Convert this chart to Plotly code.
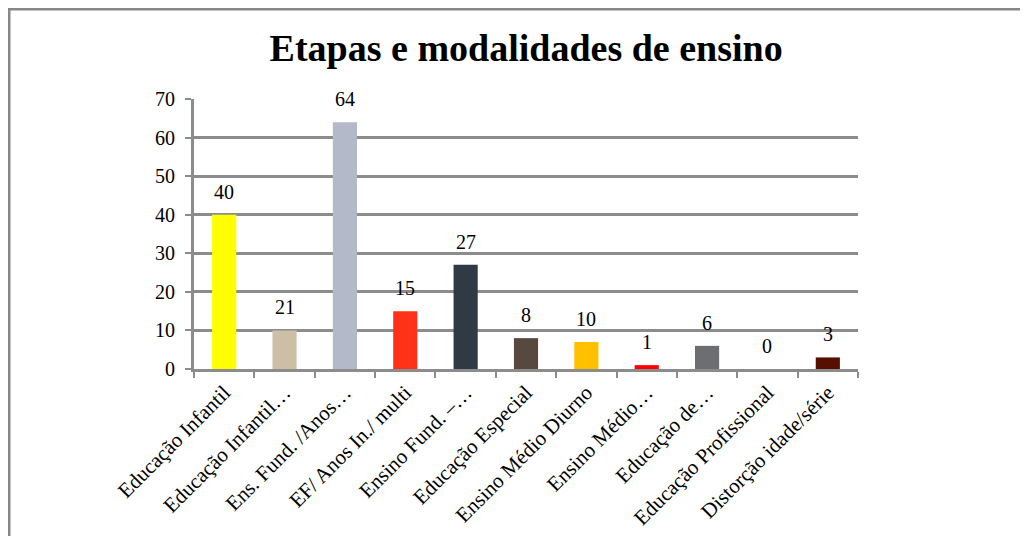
import plotly.graph_objects as go

# dados do grafico
categorias = ["Educação Infantil", "Educação Infantil…", "Ens. Fund. /Anos…",
              "EF/ Anos In./ multi", "Ensino Fund. –…", "Educação Especial",
              "Ensino Médio Diurno", "Ensino Médio…", "Educação de…",
              "Educação Profissional", "Distorção idade/série"]
alturas = [40, 10, 64, 15, 27, 8, 7, 1, 6, 0, 3]        # altura das barras (como desenhadas)
rotulos = ["40", "21", "64", "15", "27", "8", "10", "1", "6", "0", "3"]  # rotulos mostrados
cores = ["#FFFF00", "#CDBFA6", "#B3B9C9", "#FF3118", "#2F3A45", "#574840",
         "#FFC000", "#FF0000", "#6D6E71", "#FFFFFF", "#560F00"]

SERIF = "Liberation Serif, Times New Roman, serif"
# a pagina tem margem de 8px, por isso tudo fica deslocado
W, H = 1020, 528
L, R, T, B = 186, 850, 91, 361  # area do grafico em pixels

fig = go.Figure()
fig.add_trace(go.Bar(x=categorias, y=alturas, marker=dict(color=cores, line=dict(width=0)),
                     hoverinfo="x+y"))

for c, v, t in zip(categorias, alturas, rotulos):
    fig.add_annotation(x=c, y=v, text=t, showarrow=False, yanchor="bottom", yshift=10,
                       font=dict(size=20, color="black", family=SERIF))

# moldura (borda cinza do topo e da esquerda)
def px(xp):
    return (xp - L) / (R - L)

def py(yp):
    return (B - yp) / (B - T)

fig.add_shape(type="line", xref="paper", yref="paper", x0=px(0), x1=px(W + 5), y0=py(1), y1=py(1),
              line=dict(color="#878787", width=3))
fig.add_shape(type="line", xref="paper", yref="paper", x0=px(1), x1=px(1), y0=py(0), y1=py(H + 5),
              line=dict(color="#878787", width=3))

fig.update_layout(
    width=W, height=H,
    margin=dict(l=L, r=W - R, t=T, b=H - B),
    paper_bgcolor="white", plot_bgcolor="white",
    bargap=0.6,
    showlegend=False,
    font=dict(family=SERIF, color="black", size=18),
    title=dict(text="<b>Etapas e modalidades de ensino</b>", x=0.508, xanchor="center",
               y=1 - 40 / H, yanchor="middle",
               font=dict(size=38, family=SERIF, color="black")),
)
fig.update_yaxes(range=[0, 70], dtick=10, showgrid=True, gridcolor="#8C8C8C", gridwidth=2.5,
                 showline=True, linecolor="#8C8C8C", linewidth=3,
                 ticks="outside", ticklen=6, tickcolor="#8C8C8C", tickwidth=2,
                 ticklabelstandoff=6, automargin=False,
                 tickfont=dict(size=20, family=SERIF, color="black"), zeroline=False)
fig.update_xaxes(showline=True, linecolor="#8C8C8C", linewidth=3, tickson="boundaries",
                 ticks="outside", ticklen=6, tickcolor="#8C8C8C", tickwidth=2,
                 tickangle=-45, tickfont=dict(size=21, family=SERIF, color="black"),
                 showgrid=False, automargin=False)

fig.write_html("out.html")
